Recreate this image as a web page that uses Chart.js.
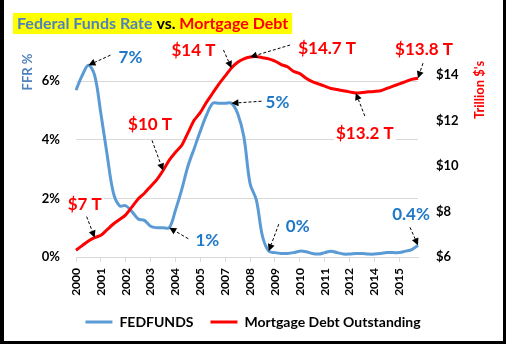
<!DOCTYPE html>
<html>
<head>
<meta charset="utf-8">
<script src="https://cdn.jsdelivr.net/npm/chart.js@4.4.1/dist/chart.umd.min.js"></script>
<style>
  html, body { margin: 0; padding: 0; background: #fff; }
  #grafico { display: block; }
</style>
</head>
<body>
<canvas id="grafico" width="506" height="344"></canvas>
<script>
/* ============================================================
DADOS
============================================================ */

const yearTicks = ["2000", "2001", "2002", "2003", "2004", "2005", "2007",
  "2008", "2009", "2010", "2011", "2012", "2014", "2015"];

// 4 pontos por rótulo do eixo
const quarters = yearTicks.flatMap((y) => [y, y, y, y]);

const fedFunds = [
  5.7, 6.2, 6.55, 6.2, 4.9, 3.5, 2.2, 1.75, 1.75, 1.55, 1.3, 1.25, 1.05, 1.0, 1.0, 1.0,
  1.6, 2.3, 3.1, 3.7, 4.3, 4.85, 5.25, 5.25, 5.25, 5.25, 4.9, 4.1, 2.5, 1.95, 0.7, 0.2,
  0.15, 0.12, 0.12, 0.15, 0.2, 0.18, 0.12, 0.1, 0.15, 0.2, 0.15, 0.1, 0.1, 0.12, 0.12, 0.1,
  0.1, 0.12, 0.15, 0.15, 0.15, 0.2, 0.25, 0.4,
];

const mortgageDebt = [
  6.3, 6.5, 6.7, 6.85, 6.95, 7.2, 7.45, 7.65, 7.85, 8.2, 8.55, 8.8, 9.1, 9.4, 9.8, 10.25,
  10.6, 10.9, 11.45, 12.0, 12.35, 12.8, 13.2, 13.6, 13.95, 14.3, 14.55, 14.7, 14.78, 14.8, 14.75, 14.7,
  14.6, 14.45, 14.35, 14.15, 14.05, 13.85, 13.7, 13.6, 13.5, 13.4, 13.35, 13.3, 13.25, 13.2,
  13.22, 13.25, 13.27, 13.3, 13.4, 13.5, 13.6, 13.7, 13.8, 13.85,
];

const ffrTicks = [0, 2, 4, 6];
const debtTicks = [6, 8, 10, 12, 14];

const seriesNames = ["FEDFUNDS", "Mortgage Debt Outstanding"];

/* ============================================================
CORES
============================================================ */

const AZUL_LINHA = "#5b9bd5";
const AZUL_TEXTO = "#1f78c8";
const AZUL_TITULO = "#4f81bd";
const VERMELHO = "#ff0000";
const GRADE = "#d9d9d9";
const FONTE = "Lato";

/* ============================================================
ANOTAÇÕES (texto + seta tracejada)
ds = série, i = ponto, lx/ly = centro do texto, tx/ty = início da seta
============================================================ */

const callouts = [
  { text: "7%", ds: 0, i: 2, lx: 42, ly: -9, tx: 22, ty: -10 },
  { text: "$7 T", ds: 1, i: 3, lx: -10, ly: -34, tx: -8, ty: -21 },
  { text: "$10 T", ds: 1, i: 14, lx: -13, ly: -47, tx: -11, ty: -30 },
  { text: "$14 T", ds: 1, i: 25, lx: -38, ly: -18, tx: -8, ty: -18 },
  { text: "$14.7 T", ds: 1, i: 28, lx: 77, ly: -9, tx: 40, ty: -12 },
  { text: "$13.8 T", ds: 1, i: 55, lx: 6, ly: -30, tx: 5, ty: -15 },
  { text: "$13.2 T", ds: 1, i: 45, lx: 9, ly: 40, tx: 9, ty: 23 },
  { text: "5%", ds: 0, i: 25, lx: 46, ly: -2, tx: 30, ty: -2 },
  { text: "1%", ds: 0, i: 15, lx: 38, ly: 12, tx: 19, ty: 11 },
  { text: "0%", ds: 0, i: 31, lx: 29, ly: -26, tx: 10, ty: -27 },
  { text: "0.4%", ds: 0, i: 55, lx: -7, ly: -32, tx: -8, ty: -18 },
];

function desenharSeta(ctx, x0, y0, x1, y1) {
  const ang = Math.atan2(y1 - y0, x1 - x0);
  const head = 7;
  const bx = x1 - head * Math.cos(ang);
  const by = y1 - head * Math.sin(ang);
  const px = 3.5 * Math.cos(ang + Math.PI / 2);
  const py = 3.5 * Math.sin(ang + Math.PI / 2);

  ctx.save();
  ctx.strokeStyle = "#000";
  ctx.lineWidth = 1;
  ctx.setLineDash([3, 2]);
  ctx.beginPath();
  ctx.moveTo(x0, y0);
  ctx.lineTo(bx, by);
  ctx.stroke();

  ctx.setLineDash([]);
  ctx.fillStyle = "#000";
  ctx.beginPath();
  ctx.moveTo(x1, y1);
  ctx.lineTo(bx + px, by + py);
  ctx.lineTo(bx - px, by - py);
  ctx.closePath();
  ctx.fill();
  ctx.restore();
}

const calloutPlugin = {
  id: "callouts",
  afterDatasetsDraw(chart) {
    const { ctx } = chart;
    ctx.save();
    ctx.font = `bold 17px ${FONTE}`;
    ctx.textAlign = "center";
    ctx.textBaseline = "middle";

    callouts.forEach((c) => {
      const pt = chart.getDatasetMeta(c.ds).data[c.i];
      const cx = pt.x + c.lx;
      const cy = pt.y + c.ly;
      const w = ctx.measureText(c.text).width;

      ctx.fillStyle = "#fff";
      ctx.fillRect(cx - w / 2 - 2, cy - 10, w + 4, 20);

      ctx.fillStyle = c.ds === 0 ? AZUL_TEXTO : VERMELHO;
      ctx.fillText(c.text, cx, cy + 1);

      desenharSeta(ctx, pt.x + c.tx, pt.y + c.ty, pt.x, pt.y);
    });
    ctx.restore();
  },
};

/* ============================================================
TÍTULO, TÍTULOS DOS EIXOS E MOLDURA
============================================================ */

const molduraPlugin = {
  id: "moldura",
  beforeDraw(chart) {
    const { ctx, width, height } = chart;
    ctx.save();
    ctx.fillStyle = "#fff";
    ctx.fillRect(0, 0, width, height);
    ctx.restore();
  },
  afterDraw(chart) {
    const { ctx, width, height } = chart;
    ctx.save();

    /* título em três cores */
    const partes = [
      ["Federal Funds Rate", AZUL_TITULO],
      [" vs. ", "#000"],
      ["Mortgage Debt", VERMELHO],
    ];
    ctx.font = `bold 16px ${FONTE}`;
    ctx.textBaseline = "middle";
    ctx.textAlign = "left";
    const total = partes.reduce((s, [t]) => s + ctx.measureText(t).width, 0);
    ctx.fillStyle = "#ffff00";
    ctx.fillRect(13, 13, total + 8, 21);
    let x = 17;
    partes.forEach(([t, cor]) => {
      ctx.fillStyle = cor;
      ctx.fillText(t, x, 24);
      x += ctx.measureText(t).width;
    });

    /* títulos dos eixos */
    ctx.textAlign = "center";
    ctx.font = `bold 13px ${FONTE}`;

    ctx.save();
    ctx.translate(28, 72);
    ctx.rotate(-Math.PI / 2);
    ctx.fillStyle = AZUL_TITULO;
    ctx.fillText("FFR %", 0, 0);
    ctx.restore();

    ctx.save();
    ctx.translate(480, 90);
    ctx.rotate(-Math.PI / 2);
    ctx.fillStyle = VERMELHO;
    ctx.fillText("Trillion $'s", 0, 0);
    ctx.restore();

    /* borda preta */
    ctx.fillStyle = "#000";
    ctx.fillRect(0, 0, 4, height);
    ctx.fillRect(width - 3, 0, 3, height);
    ctx.fillRect(0, height - 3, width, 3);

    ctx.restore();
  },
};

/* ============================================================
GRÁFICO
============================================================ */

Chart.defaults.font.family = FONTE;
Chart.defaults.font.weight = "bold";
Chart.defaults.color = "#000";

new Chart(document.getElementById("grafico"), {
  type: "line",
  data: {
    labels: quarters,
    datasets: [
      {
        label: seriesNames[0],
        data: fedFunds,
        yAxisID: "yFFR",
        borderColor: AZUL_LINHA,
        backgroundColor: AZUL_LINHA,
        borderWidth: 3,
        pointRadius: 0,
        tension: 0.35,
        order: 1,
      },
      {
        label: seriesNames[1],
        data: mortgageDebt,
        yAxisID: "yDebt",
        borderColor: VERMELHO,
        backgroundColor: VERMELHO,
        borderWidth: 3,
        pointRadius: 0,
        tension: 0.25,
        order: 0,
      },
    ],
  },
  options: {
    responsive: false,
    animation: false,
    devicePixelRatio: 1,
    layout: { padding: { top: 52, left: 0, right: 0, bottom: 5 } },
    plugins: {
      title: { display: false },
      tooltip: { enabled: false },
      legend: {
        position: "bottom",
        labels: {
          boxWidth: 27,
          boxHeight: 3,
          padding: 17,
          color: "#000",
          font: { size: 14, weight: "bold" },
          sort: (a, b) => a.datasetIndex - b.datasetIndex,
          generateLabels(chart) {
            return Chart.defaults.plugins.legend.labels
              .generateLabels(chart)
              .map((item) => ({ ...item, fillStyle: item.strokeStyle, lineWidth: 0 }));
          },
        },
      },
    },
    scales: {
      x: {
        type: "category",
        offset: false,
        afterBuildTicks: (scale) => {
          scale.ticks = scale.ticks.filter((t, i) => i % 4 === 0);
        },
        afterFit: (scale) => {
          scale.height = 41;
        },
        ticks: {
          autoSkip: false,
          minRotation: 90,
          maxRotation: 90,
          padding: 6,
          color: "#000",
          font: { size: 12, weight: "bold" },
        },
        grid: {
          drawOnChartArea: false,
          drawTicks: true,
          tickLength: 5,
          color: GRADE,
        },
        border: { display: true, color: GRADE },
      },
      yFFR: {
        position: "left",
        min: 0,
        max: 7,
        afterBuildTicks: (scale) => {
          scale.ticks = ffrTicks.map((v) => ({ value: v }));
        },
        afterFit: (scale) => {
          scale.width = 76;
        },
        ticks: {
          padding: 16,
          color: "#000",
          font: { size: 13, weight: "bold" },
          callback: (v) => v + "%",
        },
        grid: { color: GRADE, drawTicks: false },
        border: { display: false },
      },
      yDebt: {
        position: "right",
        min: 6,
        max: 15,
        afterBuildTicks: (scale) => {
          scale.ticks = debtTicks.map((v) => ({ value: v }));
        },
        afterFit: (scale) => {
          scale.width = 88;
        },
        ticks: {
          padding: 18,
          color: "#000",
          font: { size: 13, weight: "bold" },
          callback: (v) => "$" + v,
        },
        grid: { drawOnChartArea: false, drawTicks: false },
        border: { display: false },
      },
    },
  },
  plugins: [calloutPlugin, molduraPlugin],
});
</script>
</body>
</html>
